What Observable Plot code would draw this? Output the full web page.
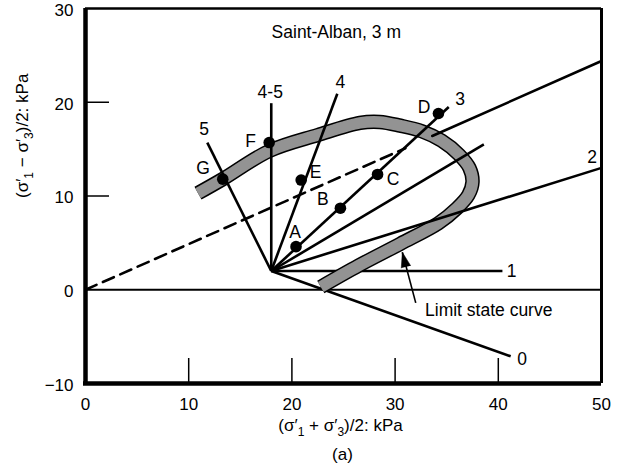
<!DOCTYPE html>
<html><head><meta charset="utf-8">
<script src="https://cdn.jsdelivr.net/npm/d3@7"></script>
<script src="https://cdn.jsdelivr.net/npm/@observablehq/plot@0.6"></script>
<style>body{margin:0;background:#fff}#chart svg{display:block}</style>
</head><body><div id="chart"></div>
<script>
// ---- data ----
const xTicks = [0, 10, 20, 30, 40, 50];
const yTicks = [-10, 0, 10, 20, 30];
const innerXTicks = [10, 20, 30, 40];
const innerYTicks = [10, 20];

const originX = 18, originY = 2;

// stress paths radiating from the origin point (back group: under the curve)
const backNames = ["0", "1"];
const backEndX = [41.2, 40.4];
const backEndY = [-7.1, 2.0];
const backLabelX = [42.3, 41.3];
const backLabelY = [-7.4, 2.0];

// front group (over the curve)
const frontNames = ["2", "", "3", "4", "4-5", "5"];
const frontEndX = [50, 38.6, 35.2, 24.4, 18.0, 11.8];
const frontEndY = [13.0, 15.5, 19.5, 20.9, 19.9, 15.7];
const frontLabelX = [49.1, null, 36.3, 24.7, 17.9, 11.5];
const frontLabelY = [14.1, null, 20.3, 22.1, 21.0, 17.1];

// labelled points
const pointNames = ["A", "B", "C", "D", "E", "F", "G"];
const pointX = [20.4, 24.7, 28.3, 34.2, 20.9, 17.8, 13.3];
const pointY = [4.6, 8.7, 12.3, 18.8, 11.7, 15.7, 11.8];
const pointLabelX = [20.3, 23.0, 29.8, 32.8, 22.3, 16.0, 11.4];
const pointLabelY = [6.1, 9.6, 11.8, 19.5, 12.5, 15.8, 12.9];

// limit state curve (centre of the shaded band)
const limitX = [10.9, 13.3, 17.8, 22.5, 26.6, 28.5, 30.5, 32.6, 34.5, 36.2, 37.2, 37.5, 37.1, 36.0, 34.2, 30.5, 26.5, 22.8];
const limitY = [10.3, 11.8, 14.8, 16.5, 17.8, 17.9, 17.5, 16.9, 15.9, 14.4, 13.0, 11.5, 10.1, 8.7, 7.1, 4.9, 2.6, 0.3];

// line through the axis origin: dashed inside, solid outside the curve
const dashedX = [0, 31.0], dashedY = [0, 15.1];
const envelopeX = [33.6, 50], envelopeY = [16.4, 24.4];

// annotation arrow (tail, head)
const arrowX = [32.0, 30.7], arrowY = [-1.4, 4.0];

const titleText = "Saint-Alban, 3 m";
const titleX = 24.3, titleY = 27.4;
const noteText = "Limit state curve";
const noteX = 32.9, noteY = -2.2;
const xLabel = "(σ′1 + σ′3)/2: kPa";
const yLabel = "(σ′1 − σ′3)/2: kPa";
const caption = "(a)";

// ---- build tables ----
const seg = (names, ex, ey) => names.map((n, i) => ({name: n, x2: ex[i], y2: ey[i]}));
const backSegs = seg(backNames, backEndX, backEndY);
const frontSegs = seg(frontNames, frontEndX, frontEndY);
const backLabels = backNames.map((n, i) => ({t: n, x: backLabelX[i], y: backLabelY[i]}));
const frontLabels = frontNames.map((n, i) => ({t: n, x: frontLabelX[i], y: frontLabelY[i]})).filter(d => d.t);
const points = pointNames.map((n, i) => ({t: n, x: pointX[i], y: pointY[i], lx: pointLabelX[i], ly: pointLabelY[i]}));
const limit = limitX.map((x, i) => ({x, y: limitY[i]}));
const dashed = dashedX.map((x, i) => ({x, y: dashedY[i]}));
const envelope = envelopeX.map((x, i) => ({x, y: envelopeY[i]}));

const FONT = "'Liberation Sans', Arial, Helvetica, sans-serif";
const LW = 2.6;

const chart = Plot.plot({
  width: 621,
  height: 473,
  marginLeft: 85,
  marginRight: 20,
  marginTop: 8,
  marginBottom: 90,
  style: {fontFamily: FONT, fontSize: "17px", background: "white", color: "black", overflow: "visible"},
  x: {domain: [0, 50]},
  y: {domain: [-10, 30]},
  marks: [
    Plot.axisX({ticks: xTicks, tickSize: 0, tickPadding: 14, fontSize: 17, label: null}),
    Plot.axisY({ticks: yTicks, tickSize: 0, tickPadding: 12, fontSize: 17, label: null, dy: 2}),
    // inward ticks
    Plot.ruleX(innerXTicks, {x: d => d, y1: -10, y2: -10, insetTop: -25, strokeWidth: 1.5}),
    Plot.ruleY(innerYTicks, {y: d => d, x1: 0, x2: 0, insetRight: -24, strokeWidth: 1.5}),
    // zero line
    Plot.ruleY([0], {strokeWidth: 2}),
    // dashed line
    Plot.line(dashed, {x: "x", y: "y", strokeWidth: LW, strokeDasharray: "12,7"}),
    // back paths
    Plot.link(backSegs, {x1: () => originX, y1: () => originY, x2: "x2", y2: "y2", strokeWidth: LW}),
    // limit state band
    Plot.line(limit, {x: "x", y: "y", curve: "catmull-rom", stroke: "black", strokeWidth: 14.5, strokeLinecap: "butt"}),
    Plot.line(limit, {x: "x", y: "y", curve: "catmull-rom", stroke: "#939393", strokeWidth: 11.5, strokeLinecap: "butt"}),
    // front paths
    Plot.link(frontSegs, {x1: () => originX, y1: () => originY, x2: "x2", y2: "y2", strokeWidth: LW}),
    Plot.line(envelope, {x: "x", y: "y", strokeWidth: LW}),
    // points
    Plot.dot(points, {x: "x", y: "y", r: 5.8, fill: "black"}),
    Plot.text(points, {x: "lx", y: "ly", text: "t", fontSize: 17.5}),
    Plot.text(backLabels, {x: "x", y: "y", text: "t", fontSize: 17.5}),
    Plot.text(frontLabels, {x: "x", y: "y", text: "t", fontSize: 17.5}),
    // annotations
    Plot.text([titleText], {x: titleX, y: titleY, text: d => d, fontSize: 17.5}),
    Plot.text([noteText], {x: noteX, y: noteY, text: d => d, textAnchor: "start", fontSize: 17.5}),
    Plot.link([0], {x1: arrowX[0], y1: arrowY[0], x2: arrowX[1], y2: arrowY[1], strokeWidth: 1.6}),
    Plot.vector([0], {x: arrowX[1], y: arrowY[1], rotate: -14, length: 15, r: 4.8, shape: "spike", anchor: "end", fill: "black", stroke: "black", strokeWidth: 0.5}),
    // frame
    Plot.ruleY([30], {strokeWidth: 2.5}),
    Plot.ruleX([50], {strokeWidth: 3}),
    Plot.ruleX([0], {strokeWidth: 4.5}),
    Plot.ruleY([-10], {strokeWidth: 4.5, insetLeft: -2}),
    // axis titles and caption
    Plot.text([xLabel], {frameAnchor: "bottom", dx: -3, dy: 47, text: d => d, fontSize: 17}),
    Plot.text([caption], {frameAnchor: "bottom", dx: -1, dy: 76, text: d => d, fontSize: 17}),
    Plot.text([yLabel], {frameAnchor: "left", rotate: -90, dx: -63, dy: 2, text: d => d, fontSize: 17})
  ]
});

// subscripts for σ′1, σ′3
chart.querySelectorAll("text").forEach(t => {
  const s = t.textContent;
  if (!/σ′\d/.test(s)) return;
  const re = /σ′(\d)/g; let m, last = 0; const parts = [];
  while ((m = re.exec(s))) {
    parts.push({t: s.slice(last, m.index) + "σ′", sub: false});
    parts.push({t: m[1], sub: true});
    last = re.lastIndex;
  }
  parts.push({t: s.slice(last), sub: false});
  t.textContent = "";
  let shifted = false;
  parts.forEach(p => {
    const ts = document.createElementNS("http://www.w3.org/2000/svg", "tspan");
    ts.textContent = p.t;
    if (p.sub) { ts.setAttribute("dy", "5"); ts.setAttribute("font-size", "12"); shifted = true; }
    else if (shifted) { ts.setAttribute("dy", "-5"); shifted = false; }
    t.appendChild(ts);
  });
});

document.getElementById("chart").appendChild(chart);
</script>
</body></html>
